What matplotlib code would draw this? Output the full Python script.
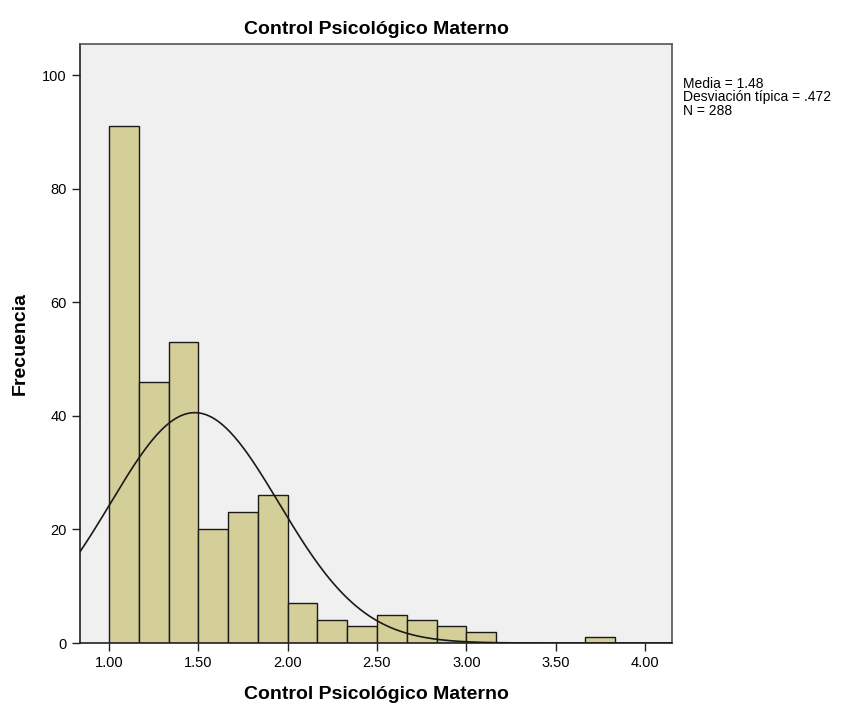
import numpy as np
import matplotlib
matplotlib.use("Agg")
from matplotlib import pyplot as plt

plt.rcParams['font.family'] = ['Liberation Sans', 'DejaVu Sans']

# histogram bins (bin width 1/6, starting at 1.00)
bin_edges = [1.0 + i / 6 for i in range(19)]
counts = [91, 46, 53, 20, 23, 26, 7, 4, 3, 5, 4, 3, 2, 0, 0, 0, 1, 0]
mean = 1.48
std = 0.472
n = 288

x_ticks = [1.0, 1.5, 2.0, 2.5, 3.0, 3.5, 4.0]
y_ticks = [0, 20, 40, 60, 80, 100]

fig = plt.figure(figsize=(8.56, 7.04), dpi=100)
ax = fig.add_axes([0.0935, 0.0866, 0.6915, 0.851])
ax.set_facecolor('#F0F0F0')

widths = np.diff(bin_edges)
ax.bar(bin_edges[:-1], counts, width=widths, align='edge',
       color='#D4CF98', edgecolor='#1a1a1a', linewidth=1.0, zorder=2)

xlim = (0.838, 4.151)
xs = np.linspace(xlim[0], xlim[1], 400)
bw = 1 / 6
curve = n * bw / (std * np.sqrt(2 * np.pi)) * np.exp(-0.5 * ((xs - mean) / std) ** 2)
ax.plot(xs, curve, color='#1a1a1a', linewidth=1.2, zorder=3)

ax.set_xlim(*xlim)
ax.set_ylim(0, 105.5)
ax.set_xticks(x_ticks)
ax.set_xticklabels(['%.2f' % t for t in x_ticks])
ax.set_yticks(y_ticks)
ax.tick_params(axis='both', labelsize=10.5, length=6, width=1, color='#222222')
for s in ax.spines.values():
    s.set_color('#555555')
    s.set_linewidth(1.2)
ax.spines['bottom'].set_color('#222222')
ax.spines['left'].set_color('#222222')

ax.set_title('Control Psicológico Materno', fontsize=14, fontweight='bold', pad=7)
ax.set_xlabel('Control Psicológico Materno', fontsize=14, fontweight='bold', labelpad=11)
ax.set_ylabel('Frecuencia', fontsize=14, fontweight='bold', labelpad=10)

fig.text(683 / 856, 1 - 77 / 704,
         'Media = 1.48\nDesviación típica = .472\nN = %d' % n,
         fontsize=10, va='top', ha='left', linespacing=0.95)

fig.savefig('out.png', dpi=100)
